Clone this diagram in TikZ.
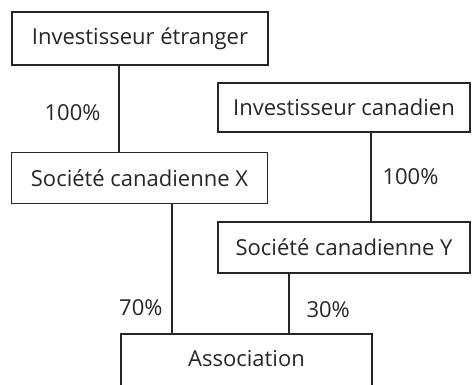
\documentclass[tikz,border=0pt]{standalone}
\usepackage{fontspec}
\setmainfont{Open Sans}
\usepackage{tikz}

\begin{document}
\begin{tikzpicture}[x=1pt,y=-1pt,firm/.style={shape=rectangle,draw=black!85,line width=1.1pt,text=black!85,font=\fontsize{22}{26}\selectfont,inner sep=0pt},share/.style={text=black!85,font=\fontsize{22}{26}\selectfont,inner sep=0pt},link/.style={draw=black!85,line width=1.1pt}]
\def\wa{256};
\def\wb{252};
\def\h{51};

\useasboundingbox (0,0) rectangle (472,384);

\node[firm,minimum width=\wa,minimum height=53] (IE) at (140,38.5) {Investisseur étranger};
\node[firm,minimum width=\wb,minimum height=49] (IC) at (344,107.5) {Investisseur canadien};

\node[firm,minimum width=\wa,minimum height=\h] (SX) at (139.5,178) {Société canadienne X};
\node[firm,minimum width=\wb,minimum height=\h] (SY) at (344,247.5) {Société canadienne Y};

\node[firm,minimum width=251,minimum height=58] (AS) at (246.5,363) {};
\node[share] at (AS.center |- 0,359) {Association};

\draw[link] ([xshift=-21pt]IE.south) -- ([xshift=-21pt]IE.south |- SX.north) node[share,pos=0.55,left=18pt] {100\%};
\draw[link] ([xshift=27pt]IC.south) -- ([xshift=27pt]IC.south |- SY.north) node[share,midway,right=11pt] {100\%};
\draw[link] ([xshift=32.5pt]SX.south) -- ([xshift=32.5pt]SX.south |- AS.north) node[share,pos=0.8,left=9pt] {70\%};
\draw[link] ([xshift=-55pt]SY.south) -- ([xshift=-55pt]SY.south |- AS.north) node[share,pos=0.6,right=17pt] {30\%};
\end{tikzpicture}
\end{document}
